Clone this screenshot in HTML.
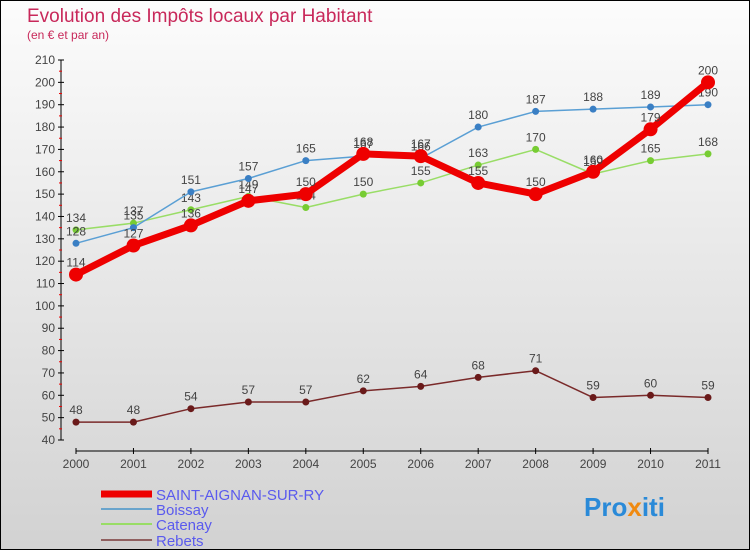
<!DOCTYPE html>
<html><head><meta charset="utf-8"><style>
body{margin:0}
#wrap{width:748px;height:548px;border:1px solid #000;background:linear-gradient(#fcfcfc,#d2d2d2);position:relative;font-family:"Liberation Sans",sans-serif;overflow:hidden}
</style></head><body>
<div id="wrap">
<svg id="svg" width="748" height="548" xmlns="http://www.w3.org/2000/svg">
<text x="26" y="21" font-size="19" fill="#c8285a">Evolution des Impôts locaux par Habitant</text>
<text x="26" y="38" font-size="12" fill="#c8285a">(en € et par an)</text>
<g id="axes"></g><g id="series"></g>
<g id="legend"></g>
<text x="583" y="515" font-size="26" font-weight="bold" fill="#2a8ad8">Pro<tspan fill="#f08a10">x</tspan><tspan fill="#2a8ad8">iti</tspan></text>
</svg>
</div>
<script>
const years=['2000','2001','2002','2003','2004','2005','2006','2007','2008','2009','2010','2011'];
const yTicks=[40,50,60,70,80,90,100,110,120,130,140,150,160,170,180,190,200,210];
const saint=[114,127,136,147,150,168,167,155,150,160,179,200];
const boissay=[128,135,151,157,165,167,166,180,187,188,189,190];
const catenay=[134,137,143,149,144,150,155,163,170,159,165,168];
const rebets=[48,48,54,57,57,62,64,68,71,59,60,59];
const NS='http://www.w3.org/2000/svg';
function X(i){return 75+i*(707-75)/11;}
function Y(v){return 439-(v-40)*(439-59)/170;}
function mk(t,a,p){const e=document.createElementNS(NS,t);for(const k in a)e.setAttribute(k,a[k]);p.appendChild(e);return e;}
const ax=document.getElementById('axes');
let l=mk('line',{x1:60,y1:Y(210),x2:60,y2:Y(40),stroke:'#000'},ax);


l=mk('line',{x1:75,y1:450,x2:707,y2:450,stroke:'#000'},ax);


yTicks.forEach(v=>{
 mk('line',{x1:57,y1:Y(v),x2:63,y2:Y(v),stroke:'#000'},ax);
 if(v<210)mk('line',{x1:58,y1:Y(v+5),x2:61,y2:Y(v+5),stroke:'#e00'},ax);
 const t=mk('text',{x:54,y:Y(v)+4,'font-size':12,fill:'#444','text-anchor':'end'},ax);t.textContent=v;
 
 
});
years.forEach((y,i)=>{
 mk('line',{x1:X(i),y1:447,x2:X(i),y2:453,stroke:'#000'},ax);
 const t=mk('text',{x:X(i),y:467,'font-size':12,fill:'#444','text-anchor':'middle'},ax);t.textContent=y;
 
 
});
const sg=document.getElementById('series');
function draw(data,color,w,r,name,dot){
 const g=mk('g',{},sg);
 
 
 mk('polyline',{points:data.map((v,i)=>X(i)+','+Y(v)).join(' '),fill:'none',stroke:color,'stroke-width':w,'stroke-linejoin':'round'},g);
 data.forEach((v,i)=>{
  const c=mk('circle',{cx:X(i),cy:Y(v),r:r,fill:dot},g);
  
  
  const t=mk('text',{x:X(i),y:Y(v)-8,'font-size':12,fill:'#444','text-anchor':'middle'},g);t.textContent=v;
  
  
 });
}
draw(rebets,'#7a2a2a',1.5,3.5,'rebets-series','#6a1a1a');
draw(catenay,'#99dd66',1.5,3.5,'catenay-series','#77cc33');
draw(boissay,'#5a9fd4',1.5,3.5,'boissay-series','#3a7fc4');
draw(saint,'#ee0000',7,7,'saint-aignan-series','#ee0000');
const lg=document.getElementById('legend');
[['SAINT-AIGNAN-SUR-RY','#ee0000',7,493],['Boissay','#6aa4cc',2,508],['Catenay','#99dd66',2,523],['Rebets','#906060',2,539]].forEach(d=>{
 const g=mk('g',{},lg);
 
 
 mk('line',{x1:100,y1:d[3],x2:151,y2:d[3],stroke:d[1],'stroke-width':d[2]},g);
 const t=mk('text',{x:155,y:d[3]+6,'font-size':15,fill:'#5a5aee'},g);t.textContent=d[0];
});
</script>
</body></html>
